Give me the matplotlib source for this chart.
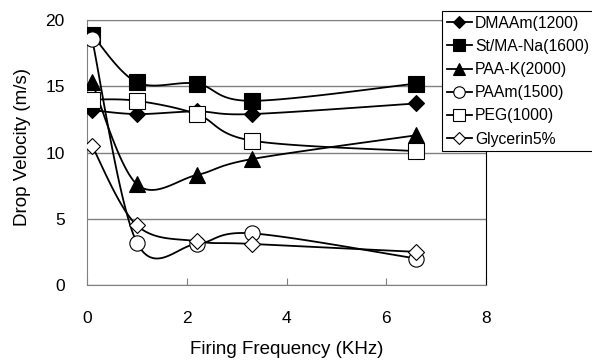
import numpy as np
import matplotlib
matplotlib.use("Agg")
import matplotlib.pyplot as plt

plt.rcParams['font.family'] = ['Liberation Sans', 'DejaVu Sans']

# firing frequency (KHz)
freq = [0.1, 1.0, 2.2, 3.3, 6.6]

# drop velocity (m/s) per ink
dmaam = [13.2, 12.9, 13.1, 12.9, 13.7]
st_ma_na = [18.9, 15.3, 15.2, 13.9, 15.2]
paa_k = [15.3, 7.6, 8.3, 9.5, 11.3]
paam = [18.6, 3.2, 3.1, 3.9, 2.0]
peg = [14.0, 13.9, 12.9, 10.9, 10.1]
glycerin = [10.5, 4.5, 3.3, 3.1, 2.5]

labels = ["DMAAm(1200)", "St/MA-Na(1600)", "PAA-K(2000)",
          "PAAm(1500)", "PEG(1000)", "Glycerin5%"]


def smooth(x, y, n=30):
    """Catmull-Rom curve through the points, like Excel's smoothed line."""
    x = np.asarray(x, float)
    y = np.asarray(y, float)
    px = np.concatenate([[x[0]], x, [x[-1]]])
    py = np.concatenate([[y[0]], y, [y[-1]]])
    xs, ys = [], []
    t = np.linspace(0, 1, n)
    for i in range(1, len(px) - 2):
        p0, p1, p2, p3 = (np.array([px[j], py[j]]) for j in range(i - 1, i + 3))
        c1 = p1 + (p2 - p0) / 6
        c2 = p2 - (p3 - p1) / 6
        pts = ((1 - t) ** 3)[:, None] * p1 + (3 * (1 - t) ** 2 * t)[:, None] * c1 \
            + (3 * (1 - t) * t ** 2)[:, None] * c2 + (t ** 3)[:, None] * p2
        xs.extend(pts[:, 0])
        ys.extend(pts[:, 1])
    return xs, ys


fig = plt.figure(figsize=(5.92, 3.62), dpi=100)
ax = fig.add_axes([87 / 592, 1 - 285 / 362, 399 / 592, 265 / 362])

series = [dmaam, st_ma_na, paa_k, paam, peg, glycerin]
styles = [
    dict(marker='D', mfc='black', ms=8),
    dict(marker='s', mfc='black', ms=11),
    dict(marker='^', mfc='black', ms=11),
    dict(marker='o', mfc='white', ms=11),
    dict(marker='s', mfc='white', ms=11),
    dict(marker='D', mfc='white', ms=8.5),
]

for vals, lab, st in zip(series, labels, styles):
    sx, sy = smooth(freq, vals)
    ax.plot(sx, sy, color='black', lw=1.3, zorder=3)
    ax.plot(freq, vals, ls='none', color='black', mec='black', mew=0.8,
            zorder=4, **st)
    ax.plot([], [], color='black', lw=1.3, label=lab,
            marker=st['marker'], mfc=st['mfc'], mec='black', mew=0.8,
            ms=st['ms'] * 0.75)

ax.set_xlim(0, 8)
ax.set_ylim(0, 20)
ax.set_xticks([0, 2, 4, 6, 8])
ax.set_yticks([0, 5, 10, 15, 20])
ax.yaxis.grid(True, color='#808080', lw=1)
ax.set_axisbelow(True)
for s in ['left', 'bottom', 'top']:
    ax.spines[s].set_color('#808080')
ax.spines['right'].set_color('black')
ax.tick_params(axis='x', direction='in', length=5, color='#808080',
               labelsize=12.5, pad=19)
ax.tick_params(axis='y', length=0, labelsize=12.5, pad=16)
ax.set_xlabel("Firing Frequency (KHz)", fontsize=13.5)
ax.set_ylabel("Drop Velocity (m/s)", fontsize=13.5)
ax.xaxis.set_label_coords(0.5, -(350 - 285) / 265, transform=ax.transAxes)
ax.xaxis.label.set_va('center')
ax.yaxis.set_label_coords(-(87 - 23) / 399, 0.52, transform=ax.transAxes)
ax.yaxis.label.set_va('center')

leg = ax.legend(loc='upper left', bbox_to_anchor=(442 / 592, 1 - 11 / 362),
                bbox_transform=fig.transFigure, fontsize=11.3, frameon=True,
                fancybox=False, edgecolor='black', framealpha=1,
                borderpad=0.3, labelspacing=0.52, handlelength=1.6,
                handletextpad=0.2, borderaxespad=0)
leg.get_frame().set_linewidth(0.8)
leg.set_zorder(10)

fig.savefig("out.png", dpi=100)
